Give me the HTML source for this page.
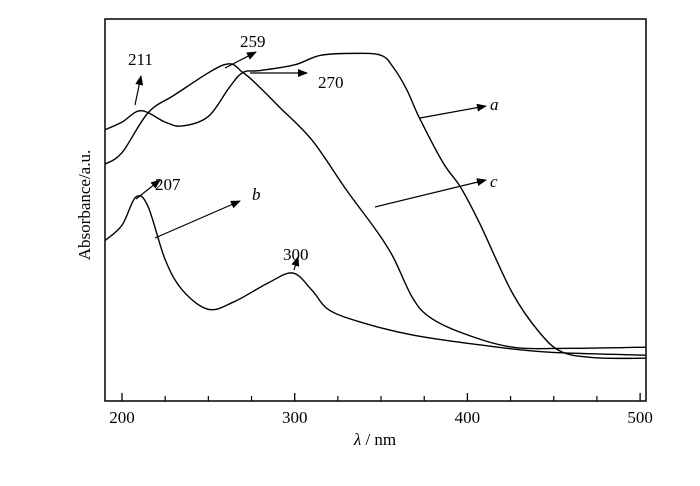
<!DOCTYPE html>
<html><head><meta charset="utf-8"><style>
body{margin:0;background:#fff;}
svg text{font-family:"Liberation Serif",serif;fill:#000;}
</style></head><body>
<svg id="chart" width="700" height="481" viewBox="0 0 700 481" xmlns="http://www.w3.org/2000/svg">
<defs><marker id="ah" markerWidth="10" markerHeight="8" refX="9" refY="4" orient="auto" markerUnits="userSpaceOnUse"><path d="M0,0 L10,4 L0,8 Z" fill="#000"/></marker></defs>
<g id="plot"></g>
</svg>
<script>
const xTicks=[200,300,400,500];
const xMinor=[225,250,275,325,350,375,425,450,475];
const lamA=[190,200,211,225,235,250,262,270,280,300,315,335,350,357,365,372,386,396,407,426,442,455,475,503];
const absA=[0.71,0.73,0.76,0.73,0.72,0.745,0.82,0.86,0.865,0.88,0.905,0.91,0.905,0.874,0.814,0.743,0.623,0.56,0.466,0.283,0.178,0.128,0.113,0.112];
const lamC=[190,200,215,230,259,270,280,291,310,330,347,357,368,378,397,426,460,503];
const absC=[0.62,0.65,0.754,0.80,0.88,0.86,0.82,0.77,0.683,0.552,0.448,0.377,0.272,0.22,0.178,0.141,0.138,0.141];
const lamB=[190,200,208,215,225,235,250,265,285,299,310,320,340,368,407,446,503];
const absB=[0.42,0.46,0.534,0.51,0.37,0.29,0.24,0.26,0.31,0.335,0.29,0.238,0.204,0.173,0.147,0.128,0.12];
const NS="http://www.w3.org/2000/svg";
const g=document.getElementById('plot');
const L=105,R=646,T=19,B=401;
const x=l=>122+(l-200)*1.727;
const y=v=>B-v*(B-T);
function el(t,a,p){const e=document.createElementNS(NS,t);for(const k in a)e.setAttribute(k,a[k]);(p||g).appendChild(e);return e;}
let f=el('rect',{x:L,y:T,width:R-L,height:B-T,fill:'none',stroke:'#000','stroke-width':1.5});

xTicks.forEach(t=>{let l=el('line',{x1:x(t),x2:x(t),y1:B,y2:B-8,stroke:'#000','stroke-width':1.3});

let tx=el('text',{x:x(t),y:B+22,'text-anchor':'middle','font-size':17});tx.textContent=t;
});
xMinor.forEach(t=>{let l=el('line',{x1:x(t),x2:x(t),y1:B,y2:B-5,stroke:'#000','stroke-width':1.2});
});
function path(ls,vs){const p=ls.map((l,i)=>[Math.max(L,Math.min(R,x(l))),y(vs[i])]);let d='M'+p[0][0]+','+p[0][1];
for(let i=0;i<p.length-1;i++){const p0=p[i-1]||p[i],p1=p[i],p2=p[i+1],p3=p[i+2]||p2;
d+=' C'+(p1[0]+(p2[0]-p0[0])/6)+','+(p1[1]+(p2[1]-p0[1])/6)+' '+(p2[0]-(p3[0]-p1[0])/6)+','+(p2[1]-(p3[1]-p1[1])/6)+' '+p2[0]+','+p2[1];}return d;}
[[lamA,absA,'curve-a'],[lamC,absC,'curve-c'],[lamB,absB,'curve-b']].forEach(s=>{let p=el('path',{d:path(s[0],s[1]),fill:'none',stroke:'#000','stroke-width':1.4});
});
const arrows=[[135,105,141,76],[225,68,256,52],[250,73,307,73],[136,199,160,180],[155,238,240,201],[294,270,298,257],[420,118,486,106],[375,207,486,180]];
arrows.forEach(a=>{let l=el('line',{x1:a[0],y1:a[1],x2:a[2],y2:a[3],stroke:'#000','stroke-width':1.2,'marker-end':'url(#ah)'});
});
const labels=[['211',128,65,''],['259',240,47,''],['270',318,88,''],['207',155,190,''],['b',252,200,'italic'],['300',283,260,''],['a',490,110,'italic'],['c',490,187,'italic']];
labels.forEach(s=>{let t=el('text',{x:s[1],y:s[2],'font-size':17,'font-style':s[3]||'normal'});t.textContent=s[0];
});
let yl=el('text',{x:0,y:0,'font-size':17,'text-anchor':'middle',transform:'translate(90,205) rotate(-90)'});yl.textContent='Absorbance/a.u.';

let xl=el('text',{x:375,y:445,'font-size':17,'text-anchor':'middle'});

xl.innerHTML='<tspan font-style="italic">λ</tspan> / nm';
</script>
</body></html>
